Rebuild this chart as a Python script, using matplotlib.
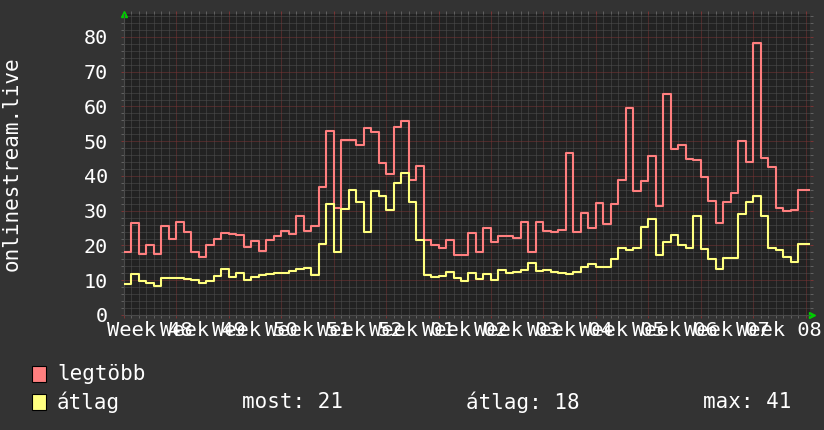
import numpy as np
import matplotlib.pyplot as plt
from matplotlib.patches import Rectangle
from matplotlib.transforms import blended_transform_factory

# daily values, starting Monday of week 48
legtobb = [18, 26.4, 17.5, 20, 17.5, 25.7, 22, 26.8, 24, 18.2,
           16.8, 20.1, 21.9, 23.7, 23.3, 23, 19.7, 21.4, 18.5, 21.6,
           22.7, 24.2, 23.3, 28.6, 24.3, 25.5, 36.9, 52.8, 30.8, 50.4,
           50.4, 48.9, 53.8, 52.7, 43.8, 40.7, 54.2, 55.8, 38.8, 43,
           21.5, 20, 19.3, 21.6, 17.4, 17.4, 23.5, 18.2, 25, 21,
           22.7, 22.7, 22.1, 26.9, 18.2, 26.9, 24.3, 24, 24.5, 46.6,
           24, 29.3, 24.9, 32.3, 26.2, 32, 38.9, 59.5, 35.7, 38.5,
           45.8, 31.5, 63.5, 47.7, 48.9, 44.9, 44.6, 39.6, 32.9, 26.4,
           32.6, 35.2, 50.2, 43.9, 78.4, 45.3, 42.7, 30.9, 30, 30.2,
           36, 36]
atlag = [8.9, 11.8, 9.9, 9.3, 8.3, 10.6, 10.6, 10.6, 10.3, 10.1,
         9.1, 9.9, 11.2, 13.1, 11, 12, 10.1, 10.8, 11.5, 11.8,
         12, 12.2, 12.8, 13.2, 13.6, 11.6, 20.5, 32, 18.2, 30.4,
         36, 32.5, 23.8, 35.6, 34.1, 30.3, 38.1, 40.8, 32.6, 21.6,
         11.4, 10.8, 11.3, 12.4, 10.6, 9.9, 12, 10.5, 11.8, 10.2,
         12.9, 12, 12.5, 12.9, 15.1, 12.7, 13, 12.5, 12, 11.8,
         12.5, 13.7, 14.7, 13.9, 13.9, 16, 19.3, 18.7, 19.3, 25.4,
         27.6, 17.3, 21.1, 23, 20.1, 19.3, 28.5, 19, 16.1, 13.1,
         16.5, 16.5, 29, 32.6, 34.3, 28.5, 19.2, 18.7, 16.8, 15.3,
         20.3, 20.3]
weeks = ['48', '49', '50', '51', '52', '01', '02', '03', '04', '05', '06', '07', '08']
yticks = [0, 10, 20, 30, 40, 50, 60, 70, 80]
stats = ['most: 21', 'átlag: 18', 'max: 41']

W, H = 824, 430
xmax = 91.6
ymax = 86.6

plt.rcParams['font.family'] = ['DejaVu Sans Mono', 'DejaVu Sans']
fig = plt.figure(figsize=(W/100, H/100), dpi=100, facecolor='#333333')
ax = fig.add_axes([124/W, 1-315/H, (810-124)/W, (315-14)/H])
ax.set_facecolor('#222222')

days = np.arange(len(legtobb))
xs = np.append(days, xmax)
ax.step(xs, np.append(legtobb, legtobb[-1]), where='post', color='#ff7f7f', lw=1.5, zorder=5)
ax.step(xs, np.append(atlag, atlag[-1]), where='post', color='#ffff7f', lw=1.5, zorder=5)

ax.set_xlim(0, xmax)
ax.set_ylim(0, ymax)

# grid
ax.set_xticks(np.arange(0, xmax, 7))
ax.set_xticks(np.arange(0, xmax, 1), minor=True)
ax.set_yticks(yticks)
ax.set_yticks(np.arange(0, ymax, 2), minor=True)
ax.grid(which='minor', color='#505050', lw=0.72, ls=(0, (1, 1)))
ax.grid(which='major', color='#7a3434', lw=0.72, ls=(0, (1, 1)))
ax.set_axisbelow(True)
ax.tick_params(which='both', direction='out', length=2.5, width=0.72, colors='#606060',
               top=True, right=True)
ax.tick_params(which='major', colors='#7a3434')
ax.set_xticklabels([])
ax.set_yticklabels([str(v) for v in yticks], fontsize=14.5)
ax.tick_params(axis='y', which='major', pad=9, labelcolor='white')
for s in ['top', 'right']:
    ax.spines[s].set_visible(False)
for s in ['left', 'bottom']:
    ax.spines[s].set_color('#4a4a4a')
    ax.spines[s].set_linewidth(0.8)

# week labels centered in each week
tr = blended_transform_factory(ax.transData, fig.transFigure)
for i, w in enumerate(weeks):
    ax.text(3.5 + 7*i, 1-330/H, 'Week ' + w, transform=tr, ha='center', va='center',
            color='white', fontsize=14.7, clip_on=False)

fig.text(12/W, 1-164/H, 'onlinestream.live', rotation=90, ha='center', va='center',
         color='white', fontsize=15)

# axis arrows
ax.plot([0], [1.0], marker='^', color='#00cc00', ms=5, transform=ax.transAxes, clip_on=False)
ax.plot([1.003], [0], marker='>', color='#00cc00', ms=5, transform=ax.transAxes, clip_on=False)

# legend
fig.patches.append(Rectangle((32/W, 1-382/H), 14/W, 16/H, transform=fig.transFigure,
                             facecolor='#ff7f7f', edgecolor='black', lw=0.8))
fig.patches.append(Rectangle((32/W, 1-410/H), 14/W, 16/H, transform=fig.transFigure,
                             facecolor='#ffff7f', edgecolor='black', lw=0.8))
fig.text(57/W, 1-374/H, 'legtöbb', color='white', fontsize=15, va='center')
fig.text(57/W, 1-402/H, 'átlag', color='white', fontsize=15, va='center')
for xp, s in zip([242, 466, 703], stats):
    fig.text(xp/W, 1-402/H, s, color='white', fontsize=15, va='center')

fig.savefig('out.png', dpi=100, facecolor=fig.get_facecolor())
